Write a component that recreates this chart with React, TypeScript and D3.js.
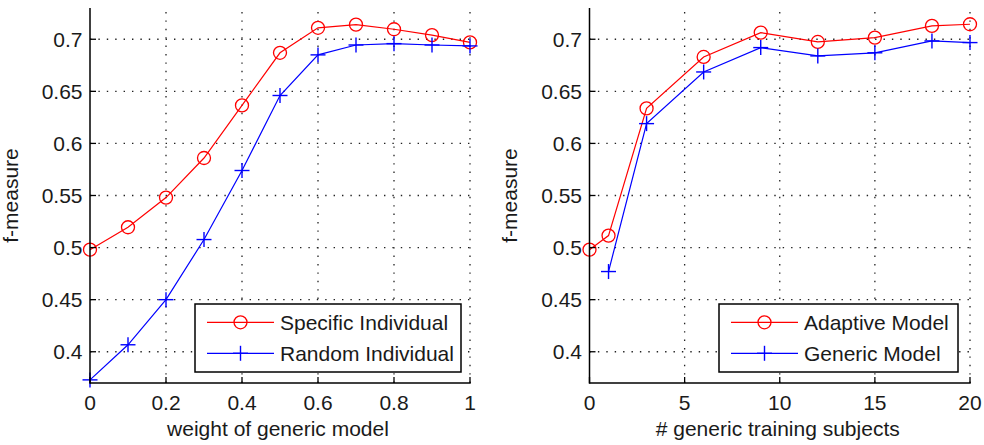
import React from "react";
import * as d3 from "d3";

// ---- data ----
const weightX = [0, 0.1, 0.2, 0.3, 0.4, 0.5, 0.6, 0.7, 0.8, 0.9, 1.0];
const specificIndividual = [0.498, 0.5195, 0.548, 0.586, 0.6365, 0.687, 0.711, 0.714, 0.7096, 0.704, 0.697];
const randomIndividual = [0.373, 0.4067, 0.45, 0.5077, 0.574, 0.646, 0.685, 0.6945, 0.6958, 0.6945, 0.6936];

const adaptiveX = [0, 1, 3, 6, 9, 12, 15, 18, 20];
const adaptiveModel = [0.498, 0.5115, 0.6336, 0.683, 0.7064, 0.6974, 0.7016, 0.7128, 0.7144];
const genericX = [1, 3, 6, 9, 12, 15, 18, 20];
const genericModel = [0.477, 0.619, 0.6686, 0.692, 0.684, 0.687, 0.6984, 0.6968];

const yTicks = [0.4, 0.45, 0.5, 0.55, 0.6, 0.65, 0.7];
const yTickLabels = ["0.4", "0.45", "0.5", "0.55", "0.6", "0.65", "0.7"];
const leftXTicks = [0, 0.2, 0.4, 0.6, 0.8, 1];
const leftXTickLabels = ["0", "0.2", "0.4", "0.6", "0.8", "1"];
const rightXTicks = [0, 5, 10, 15, 20];
const rightXTickLabels = ["0", "5", "10", "15", "20"];

const yDomain = [0.37, 0.73];

const FONT = "'Liberation Sans', Arial, Helvetica, sans-serif";
const FS = 21;
const TXT = "#1a1a1a";

type Series = { name: string; xs: number[]; ys: number[]; color: string; marker: "circle" | "plus" };

type PanelProps = {
  x0: number;
  x1: number;
  xDomain: [number, number];
  xTicks: number[];
  xTickLabels: string[];
  xLabel: string;
  ylabelX: number;
  series: Series[];
  legendX0: number;
  legendX1: number;
};

const TOP = 8;
const BOTTOM = 383;

function Marker({ kind, x, y, color }: { kind: string; x: number; y: number; color: string }) {
  if (kind === "circle") {
    return <circle cx={x} cy={y} r={6.5} fill="none" stroke={color} strokeWidth={1.3} />;
  }
  return (
    <g stroke={color} strokeWidth={1.4}>
      <line x1={x - 7.5} x2={x + 7.5} y1={y} y2={y} />
      <line x1={x} x2={x} y1={y - 7.5} y2={y + 7.5} />
    </g>
  );
}

function Panel(p: PanelProps) {
  const xs = d3.scaleLinear().domain(p.xDomain).range([p.x0, p.x1]);
  const ys = d3.scaleLinear().domain(yDomain).range([BOTTOM, TOP]);
  const dots = "1.4 7";
  const gridColor = "#222";
  const legendTop = 304;
  const legendBottom = 372;
  const rows = [322.3, 353.3];
  return (
    <g>
      {/* grid */}
      {p.xTicks.filter((t) => t !== p.xDomain[0]).map((t, i) => (
        <line key={"gx" + i} x1={xs(t)} x2={xs(t)} y1={BOTTOM} y2={TOP} stroke={gridColor} strokeWidth={1.3} strokeDasharray={dots} />
      ))}
      {yTicks.map((t, i) => (
        <line key={"gy" + i} x1={p.x0} x2={p.x1} y1={ys(t)} y2={ys(t)} stroke={gridColor} strokeWidth={1.3} strokeDasharray={dots} />
      ))}
      {/* series lines */}
      {p.series.map((s, si) => {
        const line = d3
          .line<number>()
          .x((_, i) => xs(s.xs[i]))
          .y((v) => ys(v));
        return (
          <g key={"s" + si}>
            <path d={line(s.ys) || ""} fill="none" stroke={s.color} strokeWidth={1.2} />
            {s.ys.map((v, i) => (
              <Marker key={i} kind={s.marker} x={xs(s.xs[i])} y={ys(v)} color={s.color} />
            ))}
          </g>
        );
      })}
      {/* axes */}
      <line x1={p.x0} x2={p.x0} y1={TOP} y2={BOTTOM + 0.75} stroke="#000" strokeWidth={1.5} />
      <line x1={p.x0} x2={p.x1 + 0.75} y1={BOTTOM} y2={BOTTOM} stroke="#000" strokeWidth={1.5} />
      {p.xTicks.map((t, i) => (
        <g key={"xt" + i}>
          <line x1={xs(t)} x2={xs(t)} y1={BOTTOM} y2={BOTTOM - 6} stroke="#000" strokeWidth={1.3} />
          <text x={xs(t)} y={409.5} textAnchor="middle" fontFamily={FONT} fontSize={FS} fill={TXT}>
            {p.xTickLabels[i]}
          </text>
        </g>
      ))}
      {yTicks.map((t, i) => (
        <g key={"yt" + i}>
          <line x1={p.x0} x2={p.x0 + 6} y1={ys(t)} y2={ys(t)} stroke="#000" strokeWidth={1.3} />
          <text x={p.x0 - 7.5} y={ys(t) + 7.5} textAnchor="end" fontFamily={FONT} fontSize={FS} fill={TXT}>
            {yTickLabels[i]}
          </text>
        </g>
      ))}
      <text x={(p.x0 + p.x1) / 2 - 2} y={436} textAnchor="middle" fontFamily={FONT} fontSize={FS} fill={TXT}>
        {p.xLabel}
      </text>
      <text
        transform={`translate(${p.ylabelX},${(TOP + BOTTOM) / 2}) rotate(-90)`}
        textAnchor="middle"
        fontFamily={FONT}
        fontSize={FS}
        fill={TXT}
      >
        f-measure
      </text>
      {/* legend */}
      <rect x={p.legendX0} y={legendTop} width={p.legendX1 - p.legendX0} height={legendBottom - legendTop} fill="#fff" stroke="#000" strokeWidth={1.5} />
      {p.series.map((s, i) => {
        const lx0 = p.legendX0 + 12;
        const lx1 = lx0 + 67;
        return (
          <g key={"lg" + i}>
            <line x1={lx0} x2={lx1} y1={rows[i]} y2={rows[i]} stroke={s.color} strokeWidth={1.2} />
            <Marker kind={s.marker} x={(lx0 + lx1) / 2} y={rows[i]} color={s.color} />
            <text x={lx1 + 6} y={rows[i] + 7.5} fontFamily={FONT} fontSize={FS} fill={TXT}>
              {s.name}
            </text>
          </g>
        );
      })}
    </g>
  );
}

export default function App() {
  return (
    <svg
      width={984}
      height={445}
      viewBox="0 0 984 445"
      style={{ position: "absolute", left: 0, top: 0, background: "#fff" }}
    >
      <rect width={984} height={445} fill="#fff" />
      <Panel
        x0={90}
        x1={470}
        xDomain={[0, 1]}
        xTicks={leftXTicks}
        xTickLabels={leftXTickLabels}
        xLabel="weight of generic model"
        ylabelX={18}
        legendX0={195}
        legendX1={461}
        series={[
          { name: "Specific Individual", xs: weightX, ys: specificIndividual, color: "#ff0000", marker: "circle" },
          { name: "Random Individual", xs: weightX, ys: randomIndividual, color: "#0000ff", marker: "plus" },
        ]}
      />
      <Panel
        x0={589.5}
        x1={970}
        xDomain={[0, 20]}
        xTicks={rightXTicks}
        xTickLabels={rightXTickLabels}
        xLabel="# generic training subjects"
        ylabelX={517}
        legendX0={719}
        legendX1={958}
        series={[
          { name: "Adaptive Model", xs: adaptiveX, ys: adaptiveModel, color: "#ff0000", marker: "circle" },
          { name: "Generic Model", xs: genericX, ys: genericModel, color: "#0000ff", marker: "plus" },
        ]}
      />
    </svg>
  );
}
